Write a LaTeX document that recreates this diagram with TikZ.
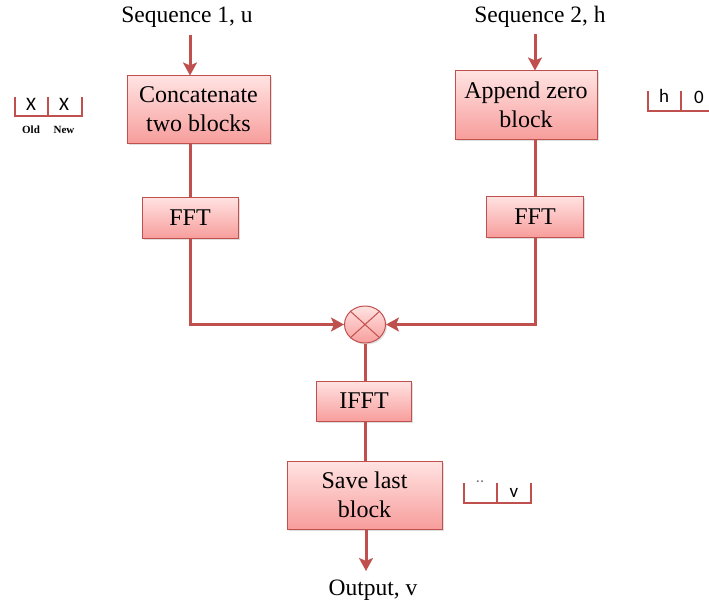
\documentclass[tikz,border=0pt]{standalone}
\usepackage{fontspec}
\setmainfont{Liberation Serif}
\newfontfamily\labelsans{Carlito}
\usetikzlibrary{arrows.meta,shadows,shapes.geometric}
\definecolor{edgered}{HTML}{C0504D}
\definecolor{pinktop}{HTML}{FFE3E2}
\definecolor{pinkbot}{HTML}{F79E9C}
\tikzset{
  flowbox/.style={draw=edgered, line width=1pt, top color=pinktop, bottom color=pinkbot,
    align=center, font=\fontsize{24}{29}\selectfont, inner sep=0pt,
    drop shadow={shadow xshift=1.5pt, shadow yshift=-1.5pt, opacity=0.25}},
  link/.style={draw=edgered, line width=3pt},
  arrowlink/.style={link, -{Stealth[length=13pt,width=14pt,inset=3pt]}},
  bracket/.style={draw=edgered, line width=2.8pt},
  caption/.style={font=\fontsize{23.5}{26}\selectfont, inner sep=0pt},
  binlabel/.style={font=\labelsans\fontsize{19}{21}\selectfont, inner sep=0pt},
  sublabel/.style={font=\bfseries\fontsize{11}{13}\selectfont, inner sep=0pt},
}
\begin{document}
\begin{tikzpicture}[x=1pt,y=-1pt]
\useasboundingbox (0,0) rectangle (709,607);

% inputs
\node[caption] (seq1) at (187,17) {Sequence 1, u};
\node[caption] (seq2) at (540,17) {Sequence 2, h};
\coordinate (in1) at (190,35);
\coordinate (in2) at (535,34);

% processing blocks
\node[flowbox, minimum width=143pt, minimum height=67pt] (concat) at (198.5,109.5) {Concatenate\\two blocks};
\node[flowbox, minimum width=142pt, minimum height=68pt] (append) at (526,105) {Append zero\\block};
\node[flowbox, minimum width=96pt, minimum height=41pt] (fft1) at (190,217.5) {FFT};
\node[flowbox, minimum width=97pt, minimum height=41pt] (fft2) at (535,216.5) {FFT};
\node[ellipse, draw=edgered, line width=1pt, top color=pinktop, bottom color=pinkbot,
      minimum width=41pt, minimum height=37pt, inner sep=0pt,
      drop shadow={shadow xshift=1.5pt, shadow yshift=-1.5pt, opacity=0.25}] (mult) at (365,324.5) {};
\draw[edgered, line width=1pt] (mult.north west) -- (mult.south east)
                               (mult.north east) -- (mult.south west);
\node[flowbox, minimum width=95pt, minimum height=40pt] (ifft) at (364,401) {IFFT};
\node[flowbox, minimum width=155pt, minimum height=68pt] (save) at (364.5,495) {Save last\\block};
\node[caption] (out) at (373,590) {Output, v};

% connectors
\draw[arrowlink] (in1) -- (in1 |- concat.north);
\draw[arrowlink] (in2) -- (in2 |- append.north);
\draw[link] (fft1.north |- concat.south) -- (fft1.north);
\draw[link] (fft2.north |- append.south) -- (fft2.north);
\draw[arrowlink] (fft1.south) |- (mult.west);
\draw[arrowlink] (fft2.south) |- (mult.east);
\draw[link] (mult.south) -- (mult.south |- ifft.north);
\draw[link] (mult.south |- ifft.south) -- (mult.south |- save.north);
\draw[arrowlink] (366,529) -- (366,571);

% block layout sketches
\draw[bracket] (15,97) -- (15,116) -- (82,116) -- (82,97) (48,97) -- (48,116);
\node[binlabel] (xold) at (31,104) {X};
\node[binlabel] (xnew) at (64,104) {X};
\node[sublabel] (oldlbl) at (31,130) {Old};
\node[sublabel] (newlbl) at (64,130) {New};

\draw[bracket] (648,91) -- (648,111) -- (712,111) (681,91) -- (681,111);
\node[binlabel] (hlbl) at (664,96) {h};
\node[binlabel] (zlbl) at (699,97) {0};

\draw[bracket] (464,483) -- (464,503) -- (531,503) -- (531,483) (497,483) -- (497,503);
\node[font=\labelsans\fontsize{16}{18}\selectfont, text=black!55, inner sep=0pt] (dots) at (480,482) {..};
\node[binlabel] (vlbl) at (514,493) {v};
\end{tikzpicture}
\end{document}
